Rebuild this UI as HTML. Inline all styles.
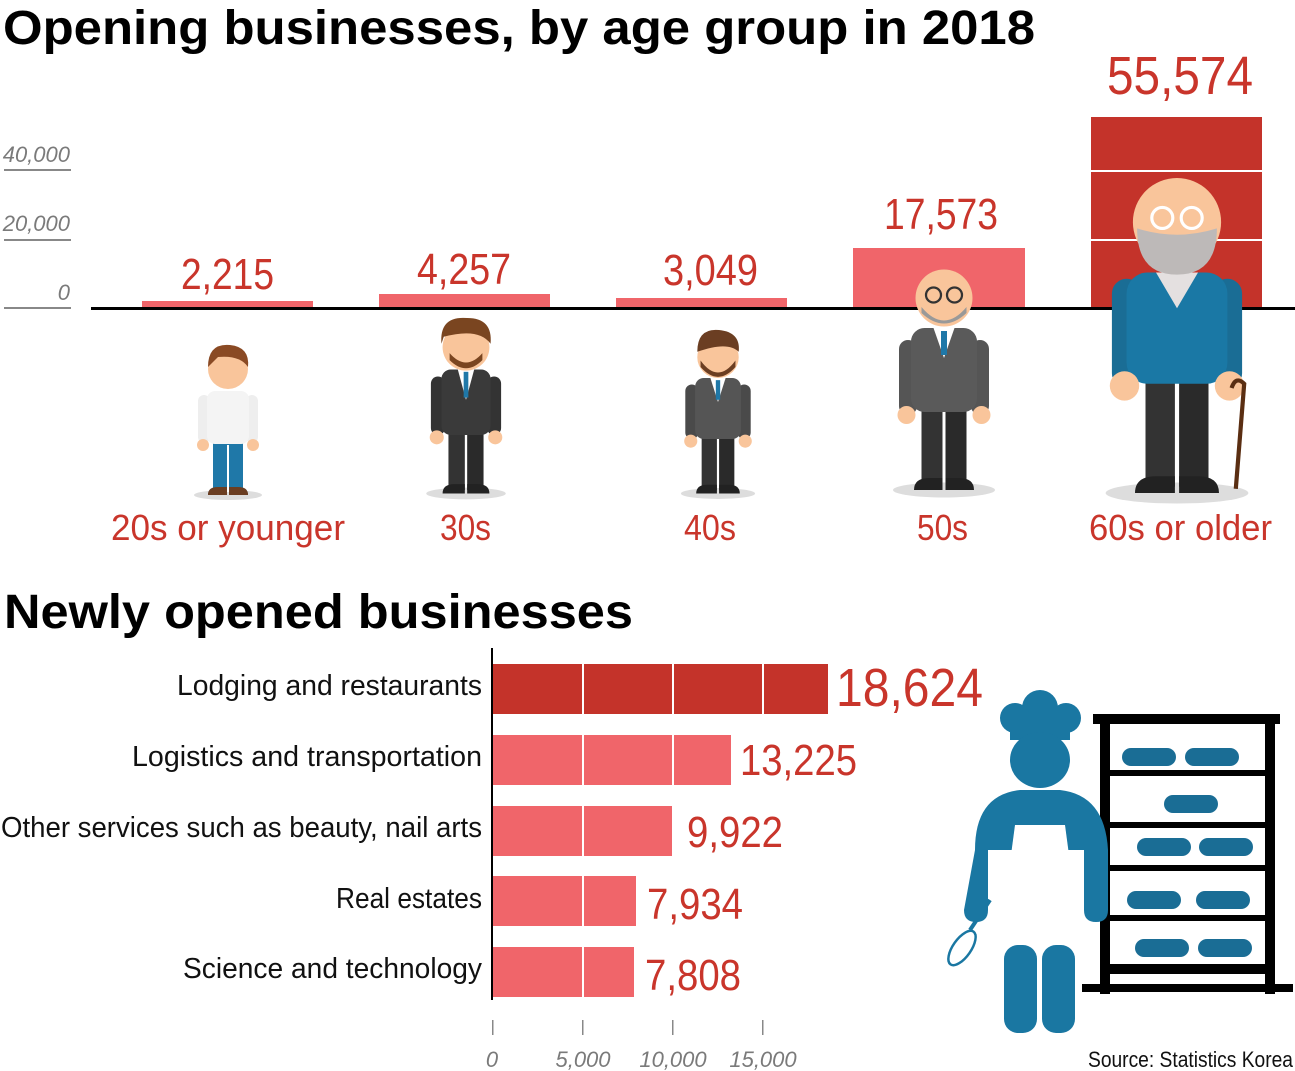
<!DOCTYPE html>
<html><head><meta charset="utf-8"><style>
html,body{margin:0;padding:0;background:#fff;}
svg{display:block;}
text{font-family:"Liberation Sans",sans-serif;}
.v{fill:#c9352b;}
.ax{fill:#7a7a7a;font-style:italic;font-size:22px;}
.lb{fill:#111;font-size:29px;}
</style></head><body>
<svg width="1295" height="1071" viewBox="0 0 1295 1071" xmlns="http://www.w3.org/2000/svg">
<defs>
<g id="person">
  <ellipse cx="0" cy="150" rx="34" ry="5" fill="#ddd"/>
  <rect x="-15" y="95" width="14" height="52" fill="#333"/>
  <rect x="1" y="95" width="14" height="52" fill="#2a2a2a"/>
  <path d="M-20 150 q0 -8 10 -8 h9 v8z M20 150 q0 -8 -10 -8 h-9 v8z" fill="#222"/>
</g>
</defs>

<text x="3" y="44" font-size="48" font-weight="bold" textLength="1032" lengthAdjust="spacingAndGlyphs">Opening businesses, by age group in 2018</text>

<text class="ax" x="70" y="162" text-anchor="end">40,000</text>
<rect x="4" y="169" width="67" height="2" fill="#888"/>
<text class="ax" x="70" y="231" text-anchor="end">20,000</text>
<rect x="4" y="239" width="67" height="2" fill="#888"/>
<text class="ax" x="70" y="300" text-anchor="end">0</text>
<rect x="4" y="307" width="67" height="2" fill="#888"/>

<rect x="142" y="301" width="171" height="7" fill="#f0656a"/>
<rect x="379" y="294" width="171" height="14" fill="#f0656a"/>
<rect x="616" y="298" width="171" height="10" fill="#f0656a"/>
<rect x="853" y="248" width="172" height="60" fill="#f0656a"/>
<rect x="1091" y="117" width="171" height="191" fill="#c4332a"/>
<rect x="1091" y="170" width="171" height="2" fill="#fff"/>
<rect x="1091" y="239" width="171" height="2" fill="#fff"/>
<rect x="91" y="307" width="1204" height="3" fill="#000"/>

<text class="v" x="181" y="289" font-size="44" textLength="93" lengthAdjust="spacingAndGlyphs">2,215</text>
<text class="v" x="417" y="284" font-size="44" textLength="94" lengthAdjust="spacingAndGlyphs">4,257</text>
<text class="v" x="663" y="285" font-size="44" textLength="95" lengthAdjust="spacingAndGlyphs">3,049</text>
<text class="v" x="884" y="229" font-size="44" textLength="114" lengthAdjust="spacingAndGlyphs">17,573</text>
<text class="v" x="1107" y="94" font-size="54" textLength="146" lengthAdjust="spacingAndGlyphs">55,574</text>

<g transform="translate(228,345)">
  <use href="#person"/>
  <rect x="-15" y="95" width="30" height="52" fill="#1f78a8"/>
  <rect x="-1" y="100" width="2" height="47" fill="#fff"/>
  <path d="M-20 150 q0 -8 10 -8 h9 v8z M20 150 q0 -8 -10 -8 h-9 v8z" fill="#6b3e22"/>
  <rect x="-30" y="50" width="12" height="48" rx="6" fill="#eee"/>
  <rect x="18" y="50" width="12" height="48" rx="6" fill="#eee"/>
  <rect x="-21" y="46" width="42" height="53" rx="8" fill="#f4f4f4"/>
  <circle cx="-25" cy="100" r="6" fill="#f9c59b"/><circle cx="25" cy="100" r="6" fill="#f9c59b"/>
  <circle cx="0" cy="24" r="20" fill="#f9c59b"/>
  <path d="M-20 22 q0 -24 22 -22 q20 2 18 22 q-8 -12 -30 -10 z" fill="#8a4a24"/>
</g>
<g transform="translate(466,318) scale(1.17)">
  <use href="#person"/>
  <rect x="-30" y="50" width="12" height="50" rx="6" fill="#333"/>
  <rect x="18" y="50" width="12" height="50" rx="6" fill="#333"/>
  <rect x="-21" y="44" width="42" height="56" rx="8" fill="#3a3a3a"/>
  <path d="M-7 44 L7 44 L0 70z" fill="#fff"/><rect x="-2" y="46" width="4" height="22" fill="#1f78a8"/>
  <circle cx="-25" cy="102" r="6" fill="#f9c59b"/><circle cx="25" cy="102" r="6" fill="#f9c59b"/>
  <circle cx="0" cy="25" r="20" fill="#f9c59b"/>
  <path d="M-14 30 q14 16 28 0 v6 q-14 14 -28 0z" fill="#7a4520"/>
  <path d="M-21 22 q-2 -24 22 -22 q22 0 20 22 q-10 -14 -40 -6 z" fill="#7a4520"/>
</g>
<g transform="translate(718,330) scale(1.09)">
  <use href="#person"/>
  <rect x="-30" y="50" width="12" height="50" rx="6" fill="#4a4a4a"/>
  <rect x="18" y="50" width="12" height="50" rx="6" fill="#4a4a4a"/>
  <rect x="-21" y="44" width="42" height="56" rx="8" fill="#555"/>
  <path d="M-7 44 L7 44 L0 66z" fill="#fff"/><rect x="-2" y="46" width="4" height="18" fill="#1f78a8"/>
  <circle cx="-25" cy="102" r="6" fill="#f9c59b"/><circle cx="25" cy="102" r="6" fill="#f9c59b"/>
  <circle cx="0" cy="25" r="19" fill="#f9c59b"/>
  <path d="M-16 28 q16 22 32 0 v6 q-16 18 -32 0z" fill="#6b3e22"/>
  <path d="M-19 20 q0 -22 20 -20 q20 2 18 20 q-10 -10 -38 0z" fill="#6b3e22"/>
</g>
<g transform="translate(944,265) scale(1.5)">
  <use href="#person"/>
  <rect x="-30" y="50" width="12" height="50" rx="6" fill="#555"/>
  <rect x="18" y="50" width="12" height="50" rx="6" fill="#555"/>
  <rect x="-22" y="42" width="44" height="56" rx="9" fill="#5a5a5a"/>
  <path d="M-7 42 L7 42 L0 62z" fill="#fff"/><rect x="-2" y="44" width="4" height="16" fill="#1f78a8"/>
  <circle cx="-25" cy="100" r="6" fill="#f9c59b"/><circle cx="25" cy="100" r="6" fill="#f9c59b"/>
  <circle cx="0" cy="22" r="19" fill="#f9c59b"/>
  <path d="M-15 28 q15 18 30 0 v4 q-15 14 -30 0z" fill="#999"/>
  <circle cx="-7" cy="20" r="5" fill="none" stroke="#333" stroke-width="1.5"/>
  <circle cx="7" cy="20" r="5" fill="none" stroke="#333" stroke-width="1.5"/>
</g>
<g transform="translate(1177,178) scale(2.1)">
  <use href="#person"/>
  <rect x="-31" y="48" width="14" height="52" rx="7" fill="#1a6d95"/>
  <rect x="17" y="48" width="14" height="52" rx="7" fill="#1a6d95"/>
  <rect x="-24" y="45" width="48" height="53" rx="10" fill="#1a78a5"/>
  <path d="M-10 45 L10 45 L0 62z" fill="#e4e0e0"/>
  <circle cx="-25" cy="99" r="7" fill="#f9c59b"/><circle cx="25" cy="99" r="7" fill="#f9c59b"/>
  <path d="M26 100 q2 -6 6 -2 l-4 50" stroke="#5a2e12" stroke-width="2" fill="none"/>
  <circle cx="0" cy="21" r="21" fill="#f9c59b"/>
  <path d="M-19 24 q0 22 19 22 q19 0 19 -22 q-19 6 -38 0z" fill="#bdb9b8"/>
  <circle cx="-7" cy="19" r="5" fill="none" stroke="#fff" stroke-width="1.5"/>
  <circle cx="7" cy="19" r="5" fill="none" stroke="#fff" stroke-width="1.5"/>
</g>

<text class="v" x="111" y="540" font-size="36" textLength="234" lengthAdjust="spacingAndGlyphs">20s or younger</text>
<text class="v" x="440" y="540" font-size="36" textLength="51" lengthAdjust="spacingAndGlyphs">30s</text>
<text class="v" x="684" y="540" font-size="36" textLength="52" lengthAdjust="spacingAndGlyphs">40s</text>
<text class="v" x="917" y="540" font-size="36" textLength="51" lengthAdjust="spacingAndGlyphs">50s</text>
<text class="v" x="1089" y="540" font-size="36" textLength="183" lengthAdjust="spacingAndGlyphs">60s or older</text>

<text x="4" y="628" font-size="48" font-weight="bold" textLength="629" lengthAdjust="spacingAndGlyphs">Newly opened businesses</text>
<rect x="491" y="648" width="2" height="352" fill="#000"/>

<rect x="493" y="664" width="335" height="50" fill="#c4332a"/>
<rect x="493" y="735" width="238" height="50" fill="#f0656a"/>
<rect x="493" y="806" width="179" height="50" fill="#f0656a"/>
<rect x="493" y="876" width="143" height="50" fill="#f0656a"/>
<rect x="493" y="947" width="141" height="50" fill="#f0656a"/>
<rect x="582" y="664" width="2" height="333" fill="#fff"/>
<rect x="672" y="664" width="2" height="122" fill="#fff"/>
<rect x="762" y="664" width="2" height="50" fill="#fff"/>

<text class="lb" x="482" y="695" text-anchor="end" textLength="305" lengthAdjust="spacingAndGlyphs">Lodging and restaurants</text>
<text class="lb" x="482" y="766" text-anchor="end" textLength="350" lengthAdjust="spacingAndGlyphs">Logistics and transportation</text>
<text class="lb" x="482" y="837" text-anchor="end" textLength="481" lengthAdjust="spacingAndGlyphs">Other services such as beauty, nail arts</text>
<text class="lb" x="482" y="908" text-anchor="end" textLength="146" lengthAdjust="spacingAndGlyphs">Real estates</text>
<text class="lb" x="482" y="978" text-anchor="end" textLength="299" lengthAdjust="spacingAndGlyphs">Science and technology</text>

<text class="v" x="836" y="706" font-size="54" textLength="147" lengthAdjust="spacingAndGlyphs">18,624</text>
<text class="v" x="740" y="775" font-size="44" textLength="117" lengthAdjust="spacingAndGlyphs">13,225</text>
<text class="v" x="687" y="847" font-size="44" textLength="96" lengthAdjust="spacingAndGlyphs">9,922</text>
<text class="v" x="647" y="919" font-size="44" textLength="96" lengthAdjust="spacingAndGlyphs">7,934</text>
<text class="v" x="645" y="990" font-size="44" textLength="96" lengthAdjust="spacingAndGlyphs">7,808</text>

<g fill="#888">
<rect x="492" y="1020" width="1.5" height="15"/><rect x="582" y="1020" width="1.5" height="15"/>
<rect x="672" y="1020" width="1.5" height="15"/><rect x="762" y="1020" width="1.5" height="15"/>
</g>
<text class="ax" x="492" y="1067" text-anchor="middle">0</text>
<text class="ax" x="583" y="1067" text-anchor="middle">5,000</text>
<text class="ax" x="673" y="1067" text-anchor="middle">10,000</text>
<text class="ax" x="763" y="1067" text-anchor="middle">15,000</text>

<g>
  <rect x="1093" y="714" width="187" height="10" fill="#000"/>
  <rect x="1100" y="724" width="10" height="270" fill="#000"/>
  <rect x="1265" y="724" width="10" height="270" fill="#000"/>
  <rect x="1100" y="770" width="175" height="6" fill="#000"/>
  <rect x="1100" y="822" width="175" height="6" fill="#000"/>
  <rect x="1100" y="865" width="175" height="6" fill="#000"/>
  <rect x="1100" y="915" width="175" height="6" fill="#000"/>
  <rect x="1100" y="964" width="175" height="10" fill="#000"/>
  <rect x="1082" y="984" width="211" height="8" fill="#000"/>
  <g fill="#1a6d95">
    <rect x="1122" y="748" width="54" height="18" rx="9"/><rect x="1185" y="748" width="54" height="18" rx="9"/>
    <rect x="1164" y="795" width="54" height="18" rx="9"/>
    <rect x="1137" y="838" width="54" height="18" rx="9"/><rect x="1199" y="838" width="54" height="18" rx="9"/>
    <rect x="1127" y="891" width="54" height="18" rx="9"/><rect x="1196" y="891" width="54" height="18" rx="9"/>
    <rect x="1135" y="939" width="54" height="18" rx="9"/><rect x="1198" y="939" width="54" height="18" rx="9"/>
  </g>
  <g fill="#1a77a2">
    <circle cx="1040" cy="708" r="18"/><circle cx="1015" cy="718" r="15"/><circle cx="1066" cy="718" r="15"/>
    <rect x="1010" y="712" width="60" height="28"/>
    <ellipse cx="1040" cy="760" rx="30" ry="28"/>
    <path d="M975 850 q0 -55 45 -60 h40 q45 5 48 60 v60 q0 12 -12 12 q-12 0 -12 -12 v-60 h-96 v60 q0 12 -12 12 q-12 0 -12 -12z"/>
    <rect x="1004" y="945" width="33" height="88" rx="14"/>
    <rect x="1042" y="945" width="33" height="88" rx="14"/>
  </g>
  <path d="M1015 825 h50 l12 90 q-38 10 -74 0z" fill="#fff"/>
  <rect x="1018" y="795" width="40" height="28" fill="#1a77a2"/>
  <line x1="990" y1="900" x2="970" y2="930" stroke="#1a77a2" stroke-width="4"/>
  <ellipse cx="962" cy="948" rx="9" ry="20" transform="rotate(35 962 948)" fill="none" stroke="#1a77a2" stroke-width="2.5"/>
</g>
<text x="1293" y="1067" font-size="22" text-anchor="end" fill="#111" textLength="205" lengthAdjust="spacingAndGlyphs">Source: Statistics Korea</text>
</svg>
</body></html>
